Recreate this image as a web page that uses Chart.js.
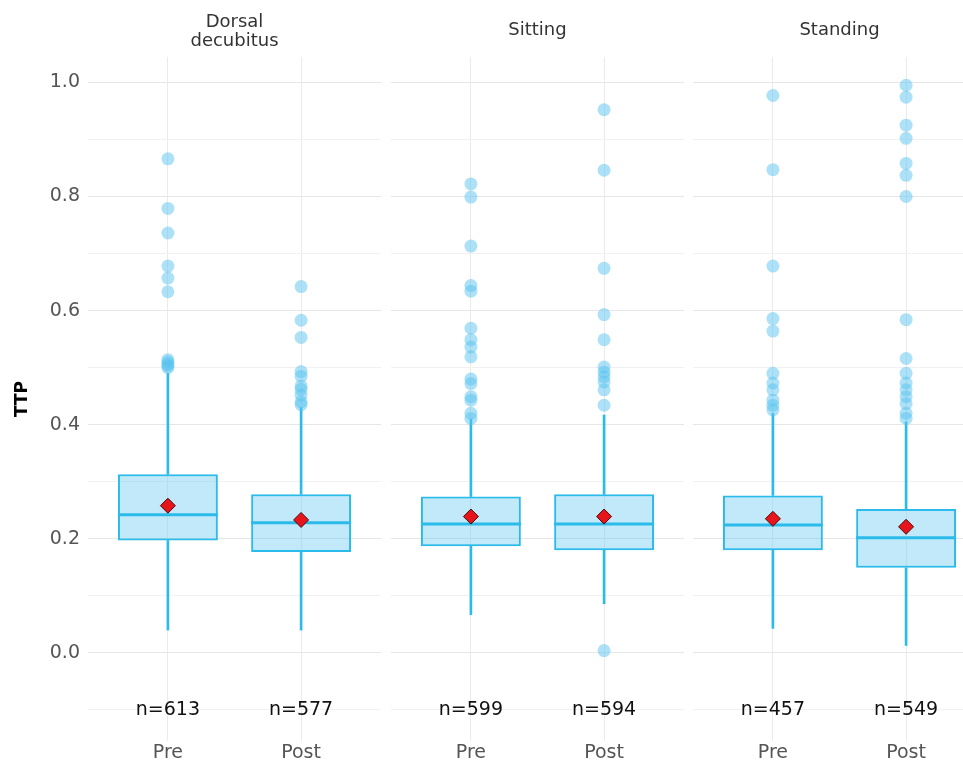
<!DOCTYPE html>
<html>
<head>
<meta charset="utf-8">
<script src="https://cdn.jsdelivr.net/npm/chart.js@4.4.0/dist/chart.umd.min.js"></script>
<style>
  html, body { margin: 0; padding: 0; background: #fff; overflow: hidden; width: 963px; height: 761px; }
  .panel { position: absolute; top: 0; height: 761px; }
</style>
</head>
<body>
<div class="panel" style="left:0;width:381px"><canvas id="facet0"></canvas></div>
<div class="panel" style="left:391px;width:293px"><canvas id="facet1"></canvas></div>
<div class="panel" style="left:693px;width:293px"><canvas id="facet2"></canvas></div>
<script>
const facets = [["Dorsal", "decubitus"], "Sitting", "Standing"];
const groups = ["Pre", "Post"];
const yTicks = [-0.1, 0, 0.1, 0.2, 0.3, 0.4, 0.5, 0.6, 0.7, 0.8, 0.9, 1.0];
const yLabels = [0, 0.2, 0.4, 0.6, 0.8, 1.0];

// per facet: [Pre, Post]
const whiskerLow = [[0.040, 0.040], [0.067, 0.086], [0.043, 0.013]];
const q1 = [[0.197, 0.177], [0.187, 0.180], [0.180, 0.149]];
const medians = [[0.242, 0.228], [0.226, 0.226], [0.224, 0.202]];
const q3 = [[0.313, 0.278], [0.274, 0.278], [0.276, 0.252]];
const whiskerHigh = [[0.490, 0.430], [0.410, 0.417], [0.420, 0.405]];
const means = [[0.258, 0.233], [0.239, 0.239], [0.235, 0.221]];
const counts = [[613, 577], [599, 594], [457, 549]];

const outliers = [
  [
    [0.500, 0.503, 0.506, 0.510, 0.514, 0.633, 0.657, 0.678, 0.736, 0.779, 0.866],
    [0.435, 0.440, 0.452, 0.462, 0.468, 0.485, 0.493, 0.553, 0.583, 0.642]
  ],
  [
    [0.411, 0.420, 0.443, 0.449, 0.472, 0.480, 0.519, 0.536, 0.549, 0.569, 0.634, 0.644, 0.713, 0.799, 0.822],
    [0.004, 0.434, 0.461, 0.475, 0.484, 0.492, 0.501, 0.549, 0.593, 0.674, 0.846, 0.952]
  ],
  [
    [0.426, 0.434, 0.443, 0.461, 0.473, 0.490, 0.564, 0.586, 0.678, 0.847, 0.977],
    [0.411, 0.420, 0.437, 0.449, 0.461, 0.473, 0.490, 0.516, 0.584, 0.800, 0.837, 0.858, 0.902, 0.925, 0.974, 0.995]
  ]
];

const blue = "#2bbbea";
const boxFill = "rgba(100, 200, 240, 0.4)";
const dotFill = "rgba(90, 195, 240, 0.5)";
const font = '"DejaVu Sans", sans-serif';

const countLabels = {
  id: "countLabels",
  afterDatasetsDraw(chart, args, opts) {
    const { ctx, scales } = chart;
    ctx.save();
    ctx.font = "19px " + font;
    ctx.fillStyle = "#111";
    ctx.textAlign = "center";
    ctx.textBaseline = "middle";
    opts.counts.forEach((n, j) => {
      ctx.fillText("n=" + n, scales.x.getPixelForValue(j + 1), scales.y.getPixelForValue(-0.1));
    });
    ctx.restore();
  },
};

function pairs(values) {
  return values.map((v, j) => ({ x: j + 1, y: v }));
}

function plotFacet(i) {
  let ctx = document.getElementById("facet" + i).getContext("2d");
  let first = i === 0;

  let dots = [];
  outliers[i].forEach((list, j) => list.forEach((v) => dots.push({ x: j + 1, y: v })));

  new Chart(ctx, {
    type: "bar",
    data: {
      datasets: [
        {
          type: "scatter",
          data: pairs(means[i]),
          pointStyle: "rectRot",
          radius: 7.5,
          backgroundColor: "#e8141b",
          borderColor: "#4a0a0a",
          borderWidth: 1,
        },
        {
          type: "scatter",
          data: pairs(medians[i]),
          pointStyle: "line",
          radius: 50,
          borderColor: blue,
          borderWidth: 3,
        },
        {
          type: "scatter",
          data: dots,
          radius: 6.5,
          backgroundColor: dotFill,
          borderWidth: 0,
        },
        {
          data: q1[i].map((v, j) => ({ x: j + 1, y: [v, q3[i][j]] })),
          backgroundColor: boxFill,
          borderColor: blue,
          borderWidth: 2,
          borderSkipped: false,
          grouped: false,
          barPercentage: 0.75,
          categoryPercentage: 1,
        },
        {
          data: q3[i].map((v, j) => ({ x: j + 1, y: [v, whiskerHigh[i][j]] })),
          backgroundColor: blue,
          barThickness: 2,
          grouped: false,
        },
        {
          data: whiskerLow[i].map((v, j) => ({ x: j + 1, y: [v, q1[i][j]] })),
          backgroundColor: blue,
          barThickness: 2,
          grouped: false,
        },
      ],
    },
    options: {
      responsive: true,
      maintainAspectRatio: false,
      animation: false,
      events: [],
      layout: { padding: 0, autoPadding: false },
      plugins: {
        legend: { display: false },
        tooltip: { enabled: false },
        title: {
          display: true,
          text: facets[i],
          fullSize: false,
          color: "#333",
          font: { family: font, size: 18, weight: "normal", lineHeight: 1.1 },
          padding: first ? { top: 12, bottom: 5.4 } : { top: 20, bottom: 17.2 },
        },
        countLabels: { counts: counts[i] },
      },
      scales: {
        x: {
          type: "linear",
          min: 0.4,
          max: 2.6,
          offset: false,
          afterBuildTicks: (scale) => {
            scale.ticks = groups.map((g, j) => ({ value: j + 1 }));
          },
          afterFit: (scale) => {
            scale.height = 20;
          },
          ticks: {
            callback: (v) => groups[v - 1],
            color: "#555",
            font: { family: font, size: 19 },
            padding: 1,
            maxRotation: 0,
          },
          grid: { color: "#ebebeb", drawTicks: false, offset: false },
          border: { display: false },
        },
        y: {
          min: -0.1545,
          max: 1.0445,
          afterBuildTicks: (scale) => {
            scale.ticks = yTicks.map((v) => ({ value: v }));
          },
          afterFit: (scale) => {
            scale.width = first ? 88 : 0;
          },
          ticks: {
            display: first,
            callback: (v) => (yLabels.some((l) => Math.abs(l - v) < 1e-6) ? v.toFixed(1) : ""),
            color: "#555",
            font: { family: font, size: 19 },
            padding: 8,
          },
          title: {
            display: first,
            text: "TTP",
            color: "#000",
            font: { family: font, size: 17, weight: "bold" },
            padding: { top: 12, bottom: 0 },
          },
          grid: {
            color: (c) => (yLabels.some((l) => Math.abs(l - c.tick.value) < 1e-6) ? "#e6e6e6" : "#f1f1f1"),
            drawTicks: false,
          },
          border: { display: false },
        },
      },
    },
    plugins: [countLabels],
  });
}

facets.forEach((f, i) => plotFacet(i));
</script>
</body>
</html>
